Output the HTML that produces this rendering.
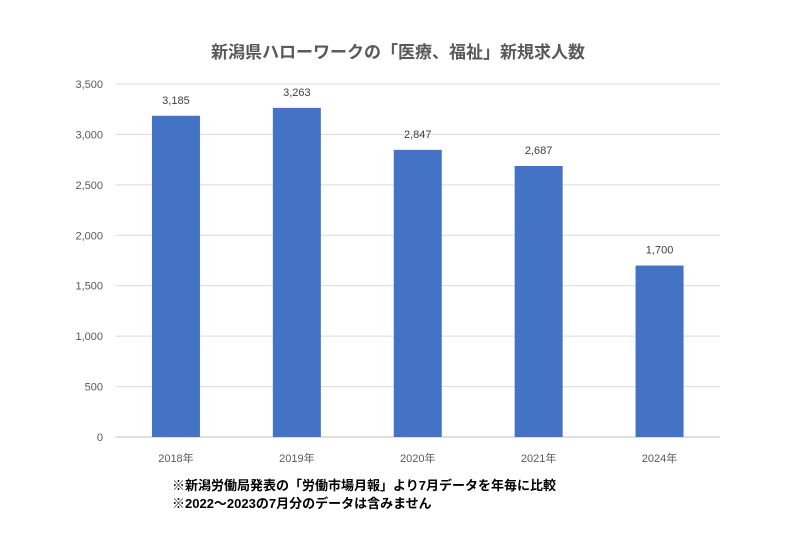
<!DOCTYPE html>
<html><head><meta charset="utf-8">
<style>
body{margin:0;background:#fff;width:793px;height:528px;overflow:hidden;font-family:"Liberation Sans","Noto Sans CJK JP",sans-serif;}
svg text{font-family:"Liberation Sans","Noto Sans CJK JP",sans-serif;}
</style></head>
<body>
<svg width="793" height="528">
<rect width="793" height="528" fill="#fff"/>
<text x="398" y="58" text-anchor="middle" font-size="17" font-weight="bold" fill="#595959">新潟県ハローワークの「医療、福祉」新規求人数</text>
<g id="grid"></g><g id="bars"></g><g id="labels"></g>
<text x="172" y="490" font-size="13" font-weight="bold" fill="#000">※新潟労働局発表の「労働市場月報」より7月データを年毎に比較</text>
<text x="172" y="508" font-size="13" font-weight="bold" fill="#000">※2022～2023の7月分のデータは含みません</text>
</svg>
<script>
const categories=["2018年","2019年","2020年","2021年","2024年"];
const values=[3185,3263,2847,2687,1700];
const valueLabels=["3,185","3,263","2,847","2,687","1,700"];
const yTicks=[0,500,1000,1500,2000,2500,3000,3500];
const yTickLabels=["0","500","1,000","1,500","2,000","2,500","3,000","3,500"];
const NS="http://www.w3.org/2000/svg";
const x0=115.5,x1=720,y0=437,yTop=84,yMax=3500;
const band=(x1-x0)/categories.length;
const y=v=>y0-(v/yMax)*(y0-yTop);
const xc=i=>x0+band*(i+0.5);
function mk(tag,attrs,parent){const e=document.createElementNS(NS,tag);for(const k in attrs)e.setAttribute(k,attrs[k]);parent.appendChild(e);return e;}
const grid=document.getElementById('grid'),bars=document.getElementById('bars'),labels=document.getElementById('labels');
yTicks.forEach((t,i)=>{
  const l=mk('line',{x1:x0,x2:x1,y1:y(t),y2:y(t),stroke:i===0?'#bfbfbf':'#d9d9d9','stroke-width':1},grid);
  
  
  const tx=mk('text',{x:103,y:y(t)+4,'text-anchor':'end','font-size':11,fill:'#595959'},grid);
  tx.textContent=yTickLabels[i];
  
  
});
values.forEach((v,i)=>{
  const w=48;
  const r=mk('rect',{x:xc(i)-w/2,y:y(v),width:w,height:y0-y(v),fill:'#4472c4'},bars);
  
  
  const t=mk('text',{x:xc(i),y:y(v)-12,'text-anchor':'middle','font-size':11,fill:'#404040'},labels);
  t.textContent=valueLabels[i];
  
  
  const c=mk('text',{x:xc(i),y:462,'text-anchor':'middle','font-size':11,fill:'#595959'},labels);
  c.textContent=categories[i];
  
  
});
</script>
</body></html>
